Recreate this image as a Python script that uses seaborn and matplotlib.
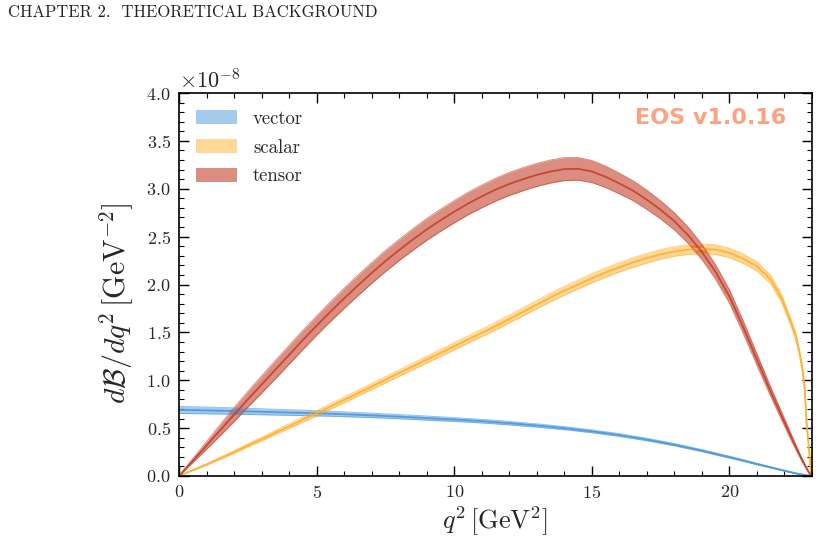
import numpy as np
import pandas as pd
import seaborn as sns
import matplotlib
matplotlib.use("Agg")
import matplotlib.pyplot as plt
from matplotlib.patches import Patch
from matplotlib.ticker import MultipleLocator, ScalarFormatter

# ---------------- data (values in units of 1e-8 GeV^-2) ----------------
tensor_q2 = [0, 0.5, 1, 1.5, 2, 2.5, 3, 3.5, 4, 4.5, 5, 5.5, 6, 6.5, 7, 7.5, 8, 8.5, 9,
             9.5, 10, 10.5, 11, 11.5, 12, 12.5, 13, 13.5, 14, 14.5, 15, 15.5, 16, 16.5,
             17, 17.5, 18, 18.5, 19, 19.5, 20, 20.5, 21, 21.5, 22, 22.3, 22.6, 22.8, 22.97]
tensor_val = [0, 0.16, 0.32, 0.48, 0.64, 0.80, 0.955, 1.11, 1.265, 1.42, 1.57, 1.715,
              1.855, 1.99, 2.12, 2.245, 2.36, 2.47, 2.575, 2.67, 2.76, 2.845, 2.92, 2.99,
              3.05, 3.10, 3.145, 3.18, 3.205, 3.208, 3.18, 3.125, 3.055, 2.98, 2.885, 2.78,
              2.66, 2.515, 2.34, 2.13, 1.875, 1.555, 1.215, 0.88, 0.56, 0.37, 0.19, 0.08, 0.0]
tensor_err = [0, 0.02, 0.04, 0.058, 0.072, 0.082, 0.09, 0.095, 0.098, 0.1, 0.1, 0.102,
              0.105, 0.107, 0.108, 0.11, 0.11, 0.112, 0.114, 0.115, 0.116, 0.117, 0.118,
              0.119, 0.12, 0.12, 0.12, 0.12, 0.12, 0.118, 0.115, 0.112, 0.108, 0.104, 0.1,
              0.095, 0.09, 0.085, 0.08, 0.075, 0.07, 0.065, 0.06, 0.05, 0.04, 0.03, 0.018,
              0.008, 0]

scalar_q2 = [0, 0.5, 1, 1.5, 2, 2.5, 3, 3.5, 4, 4.5, 5, 5.5, 6, 6.5, 7, 7.5, 8, 8.5, 9,
             9.5, 10, 10.5, 11, 11.5, 12, 12.5, 13, 13.5, 14, 14.5, 15, 15.5, 16, 16.5,
             17, 17.5, 18, 18.5, 19, 19.5, 20, 20.5, 21, 21.5, 21.9, 22.2, 22.4, 22.55,
             22.65, 22.74, 22.8, 22.86, 22.92, 22.97]
scalar_val = [0, 0.06, 0.12, 0.185, 0.25, 0.32, 0.385, 0.455, 0.52, 0.59, 0.655, 0.725,
              0.795, 0.865, 0.935, 1.005, 1.075, 1.145, 1.215, 1.285, 1.355, 1.425, 1.495,
              1.565, 1.64, 1.715, 1.79, 1.865, 1.935, 2.0, 2.065, 2.125, 2.18, 2.23, 2.275,
              2.315, 2.345, 2.365, 2.372, 2.365, 2.33, 2.27, 2.19, 2.05, 1.85, 1.63, 1.47,
              1.28, 1.12, 0.90, 0.56, 0.38, 0.18, 0.0]
scalar_err = [0, 0.004, 0.008, 0.011, 0.014, 0.017, 0.02, 0.022, 0.024, 0.026, 0.028,
              0.029, 0.03, 0.031, 0.032, 0.033, 0.034, 0.035, 0.036, 0.037, 0.038, 0.039,
              0.04, 0.041, 0.042, 0.043, 0.044, 0.045, 0.046, 0.047, 0.048, 0.049, 0.05,
              0.05, 0.05, 0.05, 0.05, 0.05, 0.05, 0.05, 0.05, 0.049, 0.047, 0.045, 0.042,
              0.038, 0.035, 0.031, 0.027, 0.022, 0.016, 0.01, 0.005, 0]

vector_q2 = [0, 1, 2, 3, 4, 5, 6, 7, 8, 9, 10, 11, 12, 13, 14, 15, 16, 17, 18, 19, 20,
             20.5, 21, 21.5, 22, 22.5, 22.97]
vector_val = [0.69, 0.685, 0.678, 0.671, 0.663, 0.655, 0.645, 0.633, 0.62, 0.605, 0.59,
              0.573, 0.552, 0.528, 0.50, 0.467, 0.428, 0.381, 0.327, 0.265, 0.197, 0.162,
              0.125, 0.09, 0.055, 0.022, 0.0]
vector_err = [0.037, 0.035, 0.033, 0.031, 0.029, 0.027, 0.025, 0.023, 0.022, 0.021, 0.02,
              0.019, 0.018, 0.017, 0.016, 0.015, 0.014, 0.013, 0.012, 0.011, 0.01, 0.009,
              0.008, 0.006, 0.005, 0.003, 0]

labels = ["vector", "scalar", "tensor"]
colors = {"vector": "#4a97dd", "scalar": "#ffb02e", "tensor": "#c4412b"}
alphas = {"vector": 0.5, "scalar": 0.5, "tensor": 0.6}

x_ticks = [0, 5, 10, 15, 20]
y_ticks = [0.0, 0.5, 1.0, 1.5, 2.0, 2.5, 3.0, 3.5, 4.0]
SCALE = 1e-8

# ---------------- style ----------------
sns.set_theme(style="ticks")
plt.rcParams["font.family"] = ["cmr10", "DejaVu Serif"]
plt.rcParams["mathtext.fontset"] = "cm"
plt.rcParams["axes.formatter.use_mathtext"] = True
plt.rcParams["axes.unicode_minus"] = False

fig = plt.figure(figsize=(8.2, 5.48), dpi=100)
ax = fig.add_axes([179 / 820, 1 - 476 / 548, (812 - 179) / 820, (476 - 93) / 548])

series = {
    "vector": (vector_q2, vector_val, vector_err),
    "scalar": (scalar_q2, scalar_val, scalar_err),
    "tensor": (tensor_q2, tensor_val, tensor_err),
}

for name in labels:
    q, v, e = series[name]
    df = pd.DataFrame({"q2": q, "val": np.array(v) * SCALE, "err": np.array(e) * SCALE})
    c = colors[name]
    ax.fill_between(df["q2"], df["val"] - df["err"], df["val"] + df["err"],
                    color=c, alpha=alphas[name], lw=0)
    for edge in (df["val"] - df["err"], df["val"] + df["err"]):
        ax.plot(df["q2"], edge, color=c, lw=0.7, alpha=0.6)
    sns.lineplot(data=df, x="q2", y="val", ax=ax, color=c, lw=1.3, alpha=0.9)

ax.set_xlim(0, 23.0)
ax.set_ylim(0, 4.0e-8)
ax.set_xticks(x_ticks)
ax.set_yticks([t * SCALE for t in y_ticks])
ax.xaxis.set_minor_locator(MultipleLocator(1))
ax.yaxis.set_minor_locator(MultipleLocator(0.1e-8))
fmt = ScalarFormatter(useMathText=True)
fmt.set_powerlimits((0, 0))
ax.yaxis.set_major_formatter(fmt)
ax.yaxis.get_offset_text().set_fontsize(16)

ax.tick_params(which="both", direction="in", top=True, right=True, labelsize=13, color="black")
ax.tick_params(which="major", length=7, width=1.0, pad=6)
ax.tick_params(which="minor", length=3.5, width=0.8)
for s in ax.spines.values():
    s.set_color("black")
    s.set_linewidth(1.2)

ax.set_xlabel(r"$q^2\,[\mathrm{GeV}^2]$", fontsize=19, labelpad=2)
ax.set_ylabel(r"$d\mathcal{B}/dq^2\,[\mathrm{GeV}^{-2}]$", fontsize=21.5)
ax.yaxis.set_label_coords(-0.068, 0.45)

handles = [Patch(facecolor=colors[n], alpha=alphas[n], edgecolor="none", label=n) for n in labels]
ax.legend(handles=handles, loc="upper left", frameon=False, fontsize=13.5,
          handlelength=2.2, handleheight=0.8, handletextpad=0.85, labelspacing=0.58,
          borderaxespad=0.5)

ax.text(0.959, 0.935, "EOS v1.0.16", transform=ax.transAxes, ha="right", va="center",
        fontsize=16, fontweight="bold", color="#ff4500", alpha=0.5, family="DejaVu Sans")

fig.text(8 / 820, 1 - 12 / 548, "CHAPTER 2.  THEORETICAL BACKGROUND", ha="left", va="center",
         fontsize=12, color="#222222")

fig.savefig("out.png", dpi=100)
